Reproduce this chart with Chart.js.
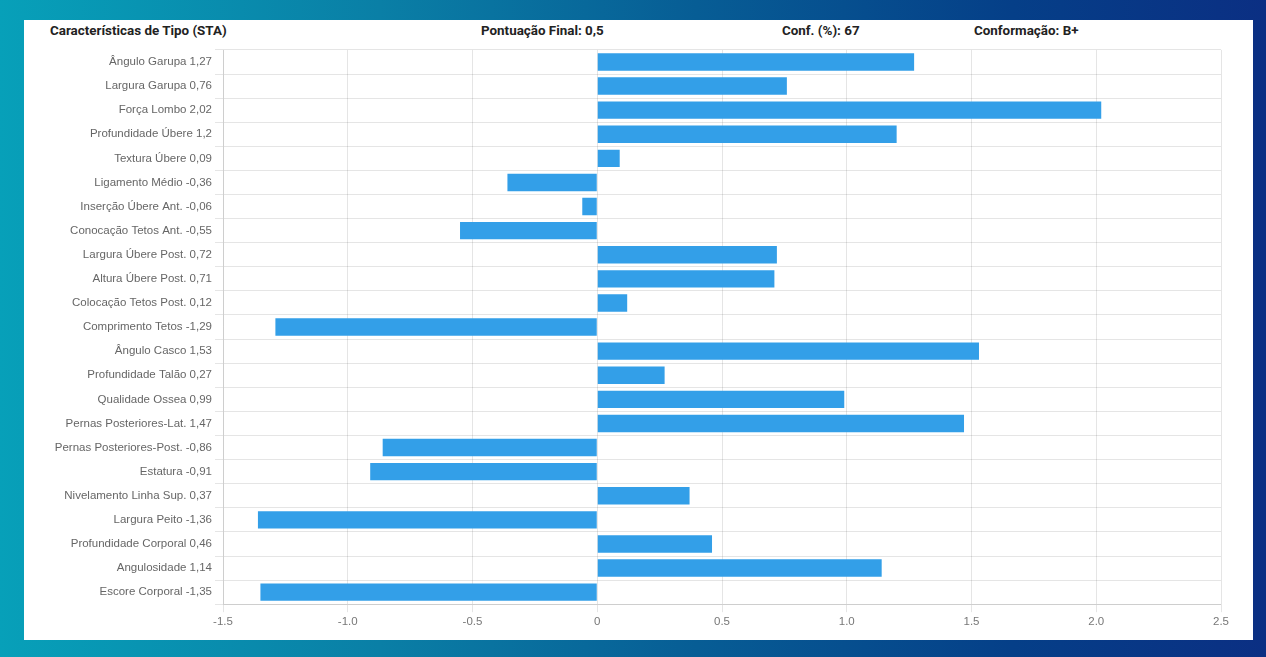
<!DOCTYPE html>
<html>
<head>
<meta charset="utf-8">
<script src="https://cdn.jsdelivr.net/npm/chart.js@4.4.1/dist/chart.umd.min.js"></script>
<style>
  html, body { margin: 0; padding: 0; }
  body {
    width: 1266px; height: 657px; overflow: hidden; position: relative;
    background: linear-gradient(90deg, #07a0b9 0%, #0a7fa6 30%, #075d95 55%, #053f88 80%, #0b2f83 100%);
  }
  #panel { position: absolute; left: 24px; top: 20px; width: 1229px; height: 620px; background: #fff; }
  .hdr { position: absolute; top: 3px; font-family: Roboto, "Liberation Sans", sans-serif; font-weight: bold; font-size: 13.4px; color: #222; white-space: nowrap; }
  #wrap { position: absolute; left: 0; top: 20px; width: 1229px; height: 600px; }
</style>
</head>
<body>
<div id="panel">
  <div class="hdr" style="left:26px">Características de Tipo (STA)</div>
  <div class="hdr" style="left:457px">Pontuação Final: 0,5</div>
  <div class="hdr" style="left:758px">Conf. (%): 67</div>
  <div class="hdr" style="left:950px">Conformação: B+</div>
  <div id="wrap"><canvas id="grafico"></canvas></div>
</div>
<script>
const caracteristicas = ['Ângulo Garupa', 'Largura Garupa', 'Força Lombo', 'Profundidade Úbere', 'Textura Úbere',
  'Ligamento Médio', 'Inserção Úbere Ant.', 'Conocação Tetos Ant.', 'Largura Úbere Post.', 'Altura Úbere Post.',
  'Colocação Tetos Post.', 'Comprimento Tetos', 'Ângulo Casco', 'Profundidade Talão', 'Qualidade Ossea',
  'Pernas Posteriores-Lat.', 'Pernas Posteriores-Post.', 'Estatura', 'Nivelamento Linha Sup.', 'Largura Peito',
  'Profundidade Corporal', 'Angulosidade', 'Escore Corporal'];
const valores = [1.27, 0.76, 2.02, 1.2, 0.09, -0.36, -0.06, -0.55, 0.72, 0.71, 0.12, -1.29, 1.53, 0.27, 0.99,
  1.47, -0.86, -0.91, 0.37, -1.36, 0.46, 1.14, -1.35];
const eixoMin = -1.5, eixoMax = 2.5, passo = 0.5;

const rotulos = caracteristicas.map((c, i) => `${c} ${String(valores[i]).replace('.', ',')}`);

const fonte = { family: '"Liberation Sans", Arial, sans-serif', size: 11.5 };

new Chart(document.getElementById('grafico'), {
  type: 'bar',
  data: {
    labels: rotulos,
    datasets: [{ data: valores, backgroundColor: '#339fe8', borderWidth: 0 }]
  },
  options: {
    indexAxis: 'y',
    responsive: true,
    maintainAspectRatio: false,
    animation: false,
    layout: { padding: { top: 6, right: 32, bottom: 8, left: 0 } },
    plugins: { legend: { display: false }, tooltip: { enabled: false } },
    scales: {
      x: {
        min: eixoMin, max: eixoMax,
        ticks: { stepSize: passo, color: '#777', font: fonte, callback: v => v === 0 ? '0' : v.toFixed(1) },
        grid: { color: 'rgba(0,0,0,0.1)' }
      },
      y: {
        ticks: { color: '#666', font: fonte, autoSkip: false },
        grid: { color: 'rgba(0,0,0,0.1)' },
        afterFit: s => { s.width = 199; }
      }
    }
  }
});
</script>
</body>
</html>
